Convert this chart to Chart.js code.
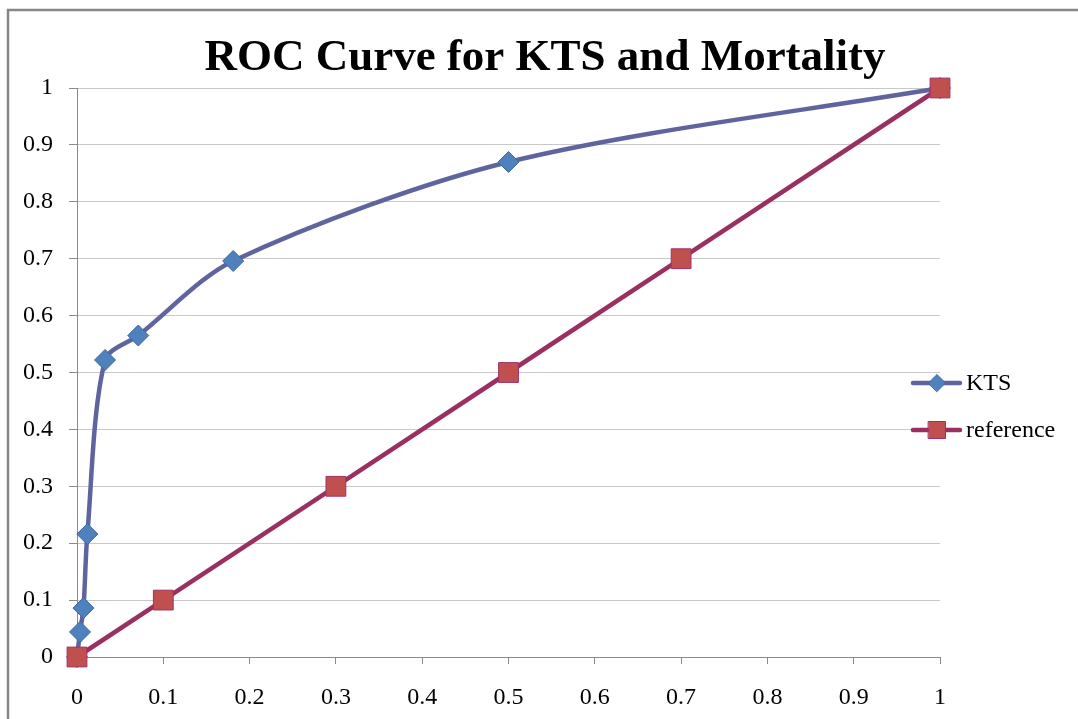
<!DOCTYPE html>
<html>
<head>
<meta charset="utf-8">
<title>ROC Curve for KTS and Mortality</title>
<script src="https://cdn.jsdelivr.net/npm/chart.js@4/dist/chart.umd.min.js"></script>
<style>
  html, body { margin: 0; padding: 0; background: #fff; overflow: hidden; }
  #wrap { position: absolute; left: 0; top: 0; width: 1078px; height: 719px; }
</style>
</head>
<body>
<div id="wrap"><canvas id="roc"></canvas></div>
<script>
// ==== DATA ====
const TITLE = 'ROC Curve for KTS and Mortality';
const ktsFPR = [0, 0.0035, 0.0075, 0.012, 0.0325, 0.071, 0.181, 0.5, 1];
const ktsTPR = [0, 0.044, 0.086, 0.216, 0.522, 0.565, 0.696, 0.87, 1];
const refX   = [0, 0.1, 0.3, 0.5, 0.7, 1];
const refY   = [0, 0.1, 0.3, 0.5, 0.7, 1];
const xTickLabels = ['0','0.1','0.2','0.3','0.4','0.5','0.6','0.7','0.8','0.9','1'];
const yTickLabels = ['0','0.1','0.2','0.3','0.4','0.5','0.6','0.7','0.8','0.9','1'];

const FONT = "'Liberation Serif', 'Times New Roman', serif";
const toPts = (xs, ys) => xs.map((x, i) => ({ x: x, y: ys[i] }));

// ==== PLUGINS ====
// outer frame + title + legend, excel style
const frame = {
  id: 'frame',
  beforeDraw(chart) {
    const ctx = chart.ctx;
    ctx.save();
    ctx.fillStyle = '#fff';
    ctx.fillRect(0, 0, chart.width, chart.height);
    ctx.strokeStyle = '#878787';
    ctx.lineWidth = 2.5;
    ctx.strokeRect(8, 10, chart.width + 20, chart.height + 20);
    ctx.restore();
  },
  afterDraw(chart) {
    const ctx = chart.ctx;
    ctx.save();
    ctx.fillStyle = '#000';
    ctx.font = "bold 45px " + FONT;
    ctx.textAlign = 'center';
    ctx.textBaseline = 'middle';
    ctx.fillText(TITLE, 545, 58);

    // legend
    const items = [chart.data.datasets[0], chart.data.datasets[1]];
    const rows = [383, 430];
    items.forEach((ds, i) => {
      const y = rows[i];
      ctx.strokeStyle = ds.borderColor;
      ctx.lineWidth = 4.5;
      ctx.lineCap = 'round';
      ctx.beginPath();
      ctx.moveTo(913, y);
      ctx.lineTo(960, y);
      ctx.stroke();
      ctx.fillStyle = ds.pointBackgroundColor;
      ctx.strokeStyle = ds.pointBorderColor;
      ctx.lineWidth = 1;
      Chart.helpers.drawPoint(ctx, {
        pointStyle: ds.pointStyle,
        radius: ds.pointStyle === 'rect' ? 12 : 8.5,
        rotation: 0,
        borderWidth: 1
      }, 937, y);
      ctx.fillStyle = '#000';
      ctx.font = "24px " + FONT;
      ctx.textAlign = 'left';
      ctx.textBaseline = 'middle';
      ctx.fillText(ds.label, 966, y + 1);
    });
    ctx.restore();
  }
};

// ==== CHART ====
const ctx = document.getElementById('roc').getContext('2d');
new Chart(ctx, {
  type: 'scatter',
  data: {
    datasets: [
      {
        label: 'KTS',
        data: toPts(ktsFPR, ktsTPR),
        showLine: true,
        borderColor: '#5f649f',
        borderWidth: 4.5,
        tension: 0.3,
        pointStyle: 'rectRot',
        pointRadius: 10.5,
        pointHoverRadius: 10.5,
        pointBackgroundColor: '#4f81bd',
        pointBorderColor: '#3d68a0',
        pointBorderWidth: 1,
        clip: false,
        order: 2
      },
      {
        label: 'reference',
        data: toPts(refX, refY),
        showLine: true,
        borderColor: '#9a2f61',
        borderWidth: 4.5,
        tension: 0,
        pointStyle: 'rect',
        pointRadius: 14,
        pointHoverRadius: 14,
        pointBackgroundColor: '#c0504d',
        pointBorderColor: '#a0306a',
        pointBorderWidth: 1,
        clip: false,
        order: 1
      }
    ]
  },
  options: {
    responsive: true,
    maintainAspectRatio: false,
    animation: false,
    layout: { padding: { left: 0, top: 88, right: 138, bottom: 0 } },
    plugins: {
      legend: { display: false },
      title: { display: false },
      tooltip: { enabled: false }
    },
    scales: {
      x: {
        type: 'linear', min: 0, max: 1,
        afterFit(s) { s.height = 62; },
        ticks: {
          stepSize: 0.1,
          padding: 19,
          color: '#000',
          font: { family: FONT, size: 24 },
          maxRotation: 0,
          callback: (v, i) => xTickLabels[i]
        },
        grid: { drawOnChartArea: false, drawTicks: true, tickLength: 7, color: '#8a8a8a' },
        border: { color: '#8a8a8a', width: 1 }
      },
      y: {
        type: 'linear', min: 0, max: 1,
        afterFit(s) { s.width = 77; },
        ticks: {
          stepSize: 0.1,
          padding: 16,
          color: '#000',
          font: { family: FONT, size: 24 },
          callback: (v, i) => yTickLabels[i]
        },
        grid: { color: '#c8c8c8', tickColor: '#8a8a8a', tickLength: 8, lineWidth: 1 },
        border: { color: '#8a8a8a', width: 1 }
      }
    }
  },
  plugins: [frame]
});
</script>
</body>
</html>
